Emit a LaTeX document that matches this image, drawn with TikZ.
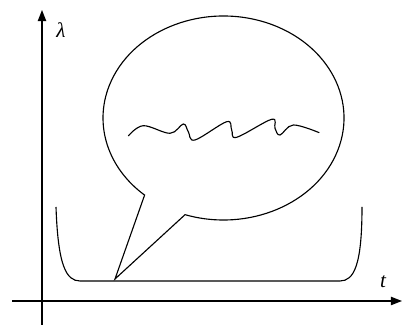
\documentclass[tikz,border=0pt]{standalone}
\usepackage{fontspec}
\setmainfont{Liberation Serif}
\usetikzlibrary{arrows.meta,positioning,calc}
\tikzset{
  axis/.style={-{Triangle[length=8pt,width=6pt]}, line width=0.9pt},
  curve/.style={line width=0.8pt, line join=miter},
  axlabel/.style={font=\fontsize{15}{18}\selectfont\itshape, inner sep=1pt},
}
\begin{document}
\begin{tikzpicture}[x=0.025cm,y=0.025cm]
  \useasboundingbox (0,0) rectangle (402,327);
  % axes
  \coordinate (yb) at (42,2);
  \coordinate (yt) at (42,317);
  \coordinate (xl) at (12,26);
  \coordinate (xr) at (402,26);
  \draw[axis] (yb) -- (yt);
  \draw[axis] (xl) -- (xr);
  \node[axlabel] (lam) at (61,297) {λ};
  \node[axlabel] (tlab) at (383,45) {t};
  % bathtub curve
  \coordinate (bl) at (56,120);
  \coordinate (br) at (362,120);
  \draw[curve] (bl) .. controls (58,62) and (66,46) .. (80,46)
    -- (340,46) .. controls (354,46) and (362,62) .. (br);
  % speech bubble
  \coordinate (c) at (223.5,209);
  \coordinate (tip) at (115,48);
  \draw[curve] (c) ++(251.4:120.5 and 102)
    arc[start angle=251.4, end angle=589.1, x radius=120.5, y radius=102]
    -- (tip) -- cycle;
  % wavy line
  \draw[curve] plot[smooth, tension=0.6] coordinates {
    (128.3,191) (143.3,201.3) (170,193.7) (183.3,203) (188.3,195.3)
    (195,187) (226.7,205.3) (231.7,197) (236.7,189.7) (271.7,207.7)
    (275,198.7) (280,192) (293.3,202) (319.3,194.3)};
\end{tikzpicture}
\end{document}
